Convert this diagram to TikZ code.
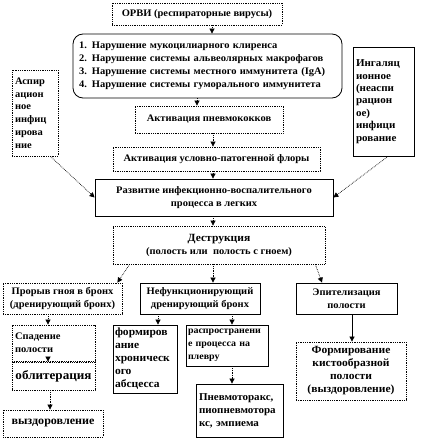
\documentclass[tikz,border=0pt]{standalone}
\usepackage{fontspec}
\setmainfont{Liberation Serif}[FakeStretch=1.05]
\usetikzlibrary{arrows.meta}

\newcommand{\boxfont}[1]{\fontsize{#1}{13}\selectfont\bfseries}

\begin{document}
\begin{tikzpicture}[
        x=1pt, y=-1pt,
        box/.style={draw, line width=0.8pt, inner sep=3pt, font=\boxfont{10}, align=center},
        dotbox/.style={box, densely dotted},
        linebox/.style={box, solid},
        connection/.style={densely dotted, line width=0.7pt, -{Triangle[length=5pt, width=5pt]}},
        solidconnection/.style={solid, line width=0.7pt, -{Triangle[length=5pt, width=5pt]}}
    ]
        \useasboundingbox (0,0) rectangle (426,441);

        % Cause and defects of defence
        \node[dotbox, minimum width=170pt, minimum height=22pt] (orvi) at (197,14) {ОРВИ (респираторные вирусы)};
        \node[linebox, rounded corners=10pt, minimum width=269pt, minimum height=64pt, text width=257pt, align=left] (defects) at (207.5,66)
            {1. Нарушение мукоцилиарного клиренса\\2. Нарушение системы альвеолярных макрофагов\\3. Нарушение системы местного иммунитета (IgA)\\4. Нарушение системы гуморального иммунитета};

        % Activation of flora
        \node[dotbox, minimum width=148pt, minimum height=27pt] (pneumo) at (209,119.5) {Активация пневмококков};
        \node[dotbox, minimum width=207pt, minimum height=24pt] (flora) at (216.5,159) {Активация условно-патогенной флоры};

        % Ways of infection
        \node[dotbox, minimum width=46pt, minimum height=86pt, text width=40pt, align=left, font=\fontsize{10}{12.7}\selectfont\bfseries] (aspir) at (35,113) {Аспир\\ацион\\ное\\инфиц\\ирова\\ние};
        \node[linebox, minimum width=61pt, minimum height=109pt, text width=55pt, align=left, font=\fontsize{10.5}{12.4}\selectfont\bfseries] (inhal) at (383.5,101.5) {Ингаляц\\ионное\\(неаспи\\рацион\\ое)\\инфици\\рование};

        % Process and destruction
        \node[linebox, minimum width=238pt, minimum height=37pt] (process) at (214,197.5) {Развитие инфекционно-воспалительного\\процесса в легких};
        \node[dotbox, minimum width=212pt, minimum height=38pt] (destr) at (219,245) {{\boxfont{11}Деструкция}\\(полость или\ \ полость с гноем)};

        % Outcomes of destruction
        \node[dotbox, minimum width=119pt, minimum height=31pt] (breach) at (62.5,298.5) {Прорыв гноя в бронх\\(дренирующий бронх)};
        \node[linebox, minimum width=120pt, minimum height=31pt] (blocked) at (200,298.5) {Нефункционирующий\\дренирующий бронх};
        \node[linebox, minimum width=101pt, minimum height=31pt] (epith) at (346.5,298.5) {Эпителизация\\полости};

        % Further course
        \node[dotbox, minimum width=83pt, minimum height=36pt, text width=77pt, align=left] (collapse) at (53.5,343) {Спадение\\полости};
        \node[dotbox, minimum width=83pt, minimum height=28pt, font=\boxfont{12.5}] (oblit) at (53.5,376) {облитерация};
        \node[dotbox, minimum width=100pt, minimum height=27pt, font=\boxfont{11.5}] (recov) at (53,423.5) {выздоровление};
        \node[linebox, minimum width=64pt, minimum height=68pt, inner sep=2pt, text width=60pt, align=left, font=\boxfont{11}] (chronic) at (145,359) {формиров\\ание\\хроническ\\ого\\абсцесса};
        \node[linebox, minimum width=82pt, minimum height=41pt, inner sep=2pt, text width=78pt, align=left, font=\boxfont{9.5}] (pleura) at (227,345.5) {распространени\\е процесса на\\плевру};
        \node[linebox, minimum width=87pt, minimum height=53pt, text width=81pt, align=left, font=\boxfont{10.5}] (pneumothorax) at (239.5,410.5) {Пневмоторакс,\\пиопневмотора\\кс, эмпиема};
        \node[dotbox, minimum width=110pt, minimum height=58pt, font=\boxfont{11}] (cyst) at (351,371) {Формирование\\кистообразной\\полости\\(выздоровление)};

        % Connections - main chain
        \draw[connection] ([xshift=15pt]orvi.south) -- ([xshift=4.5pt]defects.north);
        \draw[connection] ([xshift=-10.5pt]defects.south) -- ([xshift=-12pt]pneumo.north);
        \draw[connection] ([xshift=4pt]pneumo.south) -- ([xshift=-3.5pt]flora.north);
        \draw[connection] ([xshift=-3.5pt]flora.south) -- ([xshift=-1pt]process.north);
        \draw[connection] ([xshift=-1pt]process.south) -- ([xshift=-6pt]destr.north);
        \draw[connection] ([xshift=-8pt]aspir.south east) -- (process.west);
        \draw[connection] ([xshift=4.5pt]inhal.south) -- (process.east);

        % Connections - outcomes
        \draw[connection] ([xshift=17pt]destr.south west) -- ([xshift=-5pt]breach.north east);
        \draw[connection] ([xshift=-6pt]destr.south) -- ([xshift=13pt]blocked.north);
        \draw[connection] ([xshift=-10pt]destr.south east) -- ([xshift=-24.5pt]epith.north);
        \draw[connection] ([xshift=-14.5pt]breach.south) -- ([xshift=-5.5pt]collapse.north);
        \draw[connection] ([xshift=-5.5pt]collapse.south) -- ([xshift=-5.5pt]oblit.north);
        \draw[connection] ([xshift=-3.5pt]oblit.south) -- ([xshift=-3pt]recov.north);
        \draw[connection] ([xshift=-42pt]blocked.south) -- ([xshift=13pt]chronic.north);
        \draw[connection] ([xshift=32pt]blocked.south) -- ([xshift=5pt]pleura.north);
        \draw[connection] ([xshift=5pt]pleura.south) -- ([xshift=-7.5pt]pneumothorax.north);
        \draw[solidconnection] ([xshift=5.5pt]epith.south) -- ([xshift=1pt]cyst.north);
    \end{tikzpicture}
\end{document}
